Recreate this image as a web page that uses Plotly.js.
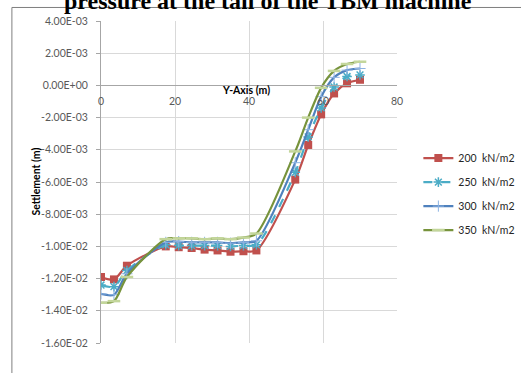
<!DOCTYPE html>
<html>
<head>
<meta charset="utf-8">
<script src="https://cdn.plot.ly/plotly-3.0.1.min.js"></script>
<style>
html,body{margin:0;padding:0;background:#fff;}
#chart{width:521px;height:373px;}
</style>
</head>
<body>
<div id="chart"></div>
<script>
// Distance along Y-axis (m)
const distance = [0, 3.5, 7, 17.5, 21, 24.5, 28, 31.5, 35, 38.5, 42, 52.5, 56, 59.5, 63, 66.5, 70];
// Settlement (m) for each face pressure
const s200 = [-1.19e-2, -1.205e-2, -1.12e-2, -1.00e-2, -1.005e-2, -1.01e-2, -1.02e-2, -1.025e-2, -1.033e-2, -1.03e-2, -1.025e-2, -5.85e-3, -3.7e-3, -1.8e-3, -5e-4, 1.3e-4, 3.5e-4];
const s250 = [-1.24e-2, -1.25e-2, -1.15e-2, -9.9e-3, -9.95e-3, -9.95e-3, -9.95e-3, -9.95e-3, -1.0e-2, -9.95e-3, -9.9e-3, -5.4e-3, -3.2e-3, -1.4e-3, -1.0e-4, 5.5e-4, 6.5e-4];
const s300 = [-1.295e-2, -1.30e-2, -1.17e-2, -9.75e-3, -9.7e-3, -9.75e-3, -9.75e-3, -9.75e-3, -9.8e-3, -9.75e-3, -9.65e-3, -4.8e-3, -2.75e-3, -7e-4, 5e-4, 9.5e-4, 1.05e-3];
const s350 = [-1.35e-2, -1.34e-2, -1.19e-2, -9.55e-3, -9.5e-3, -9.5e-3, -9.55e-3, -9.5e-3, -9.55e-3, -9.45e-3, -9.2e-3, -4.1e-3, -2.0e-3, -1.5e-4, 9e-4, 1.33e-3, 1.47e-3];
const seriesNames = ['200\u00a0\u00a0kN/m2', '250\u00a0\u00a0kN/m2', '300\u00a0\u00a0kN/m2', '350\u00a0\u00a0kN/m2'];
// Axis ticks
const yTickVals = [4e-3, 2e-3, 0, -2e-3, -4e-3, -6e-3, -8e-3, -1e-2, -1.2e-2, -1.4e-2, -1.6e-2];
const yTickText = ['4.00E-03', '2.00E-03', '0.00E+00', '-2.00E-03', '-4.00E-03', '-6.00E-03', '-8.00E-03', '-1.00E-02', '-1.20E-02', '-1.40E-02', '-1.60E-02'];
const xTickVals = [0, 20, 40, 60, 80];
const titleText = 'pressure at the tail of the TBM machine';
const xTitle = 'Y-Axis (m)';
const yTitle = 'Settlement (m)';

const tickFont = {family: 'Lato, "Open Sans", sans-serif', size: 10.5, color: '#595959'};

const traces = [
  {x: distance, y: s200, name: seriesNames[0], legendgroup: 'a', mode: 'lines+markers',
   line: {color: '#C0504D', width: 2.2, shape: 'spline', smoothing: 0.8},
   marker: {symbol: 'square', size: 8, color: '#C0504D'}},
  {x: distance, y: s250, name: seriesNames[1], legendgroup: 'b', mode: 'lines+markers',
   line: {color: '#4BACC6', width: 2.2, dash: 'dash', shape: 'spline', smoothing: 0.8},
   marker: {symbol: 'asterisk-open', size: 8, color: '#4BACC6', line: {color: '#4BACC6', width: 1.5}}},
  {x: distance, y: s300, name: seriesNames[2], legendgroup: 'c', mode: 'lines+markers',
   line: {color: '#4F81BD', width: 2.2, shape: 'spline', smoothing: 0.8},
   marker: {symbol: 'cross-thin-open', size: 8, color: '#8DB3E2', line: {color: '#8DB3E2', width: 1}}},
  {x: distance, y: s350, name: seriesNames[3], legendgroup: 'd', mode: 'lines+markers',
   line: {color: '#77933C', width: 2.2, shape: 'spline', smoothing: 0.8},
   marker: {symbol: 'line-ew-open', size: 9, color: '#C3D69B', line: {color: '#C3D69B', width: 2.5}}}
];

const layout = {
  width: 521, height: 373,
  margin: {l: 101, r: 124, t: 21, b: 30, pad: 0},
  paper_bgcolor: '#ffffff', plot_bgcolor: '#ffffff',
  showlegend: true,
  font: {family: 'Lato, "Open Sans", sans-serif', color: '#404040'},
  xaxis: {
    range: [0, 80], tickvals: xTickVals, ticks: '', showgrid: true, gridcolor: '#D9D9D9', gridwidth: 1,
    showline: true, linecolor: '#A6A6A6', linewidth: 1, anchor: 'free', position: 0.8,
    zeroline: false, tickfont: tickFont, ticklabelstandoff: 6
  },
  yaxis: {
    range: [-0.016, 0.004], tickvals: yTickVals, ticktext: yTickText, ticks: 'outside', ticklen: 4,
    tickcolor: '#A6A6A6', showgrid: true, gridcolor: '#D9D9D9', gridwidth: 1,
    showline: true, linecolor: '#A6A6A6', linewidth: 1, zeroline: false, tickfont: tickFont,
    ticklabelstandoff: 6
  },
  legend: {
    xref: 'container', yref: 'container',
    x: 0.803, y: 0.615, xanchor: 'left', yanchor: 'top', traceorder: 'grouped', tracegroupgap: 5,
    font: {family: 'Lato, "Open Sans", sans-serif', size: 10.5, color: '#262626'},
    bgcolor: 'rgba(0,0,0,0)', itemwidth: 30
  },
  annotations: [
    {text: '<b>' + titleText + '</b>', xref: 'paper', yref: 'paper', x: 0.564, y: 1.014, xanchor: 'center', yanchor: 'bottom',
     showarrow: false, font: {family: '"Liberation Serif", "Times New Roman", serif', size: 24, color: '#000'}},
    {text: '<b>' + xTitle + '</b>', xref: 'paper', yref: 'paper', x: 0.49, y: 0.785, xanchor: 'center', yanchor: 'middle',
     showarrow: false, font: {family: 'Lato, "Open Sans", sans-serif', size: 10.5, color: '#000'}},
    {text: '<b>' + yTitle + '</b>', xref: 'paper', yref: 'paper', x: -0.221, y: 0.5, xanchor: 'center', yanchor: 'middle',
     textangle: -90, showarrow: false, font: {family: 'Lato, "Open Sans", sans-serif', size: 10.5, color: '#000'}}
  ],
  shapes: [
    {type: 'line', xref: 'paper', yref: 'paper', x0: -0.301, x1: 1.5, y0: 1.042, y1: 1.042, line: {color: '#7F7F7F', width: 1}},
    {type: 'line', xref: 'paper', yref: 'paper', x0: -0.301, x1: -0.301, y0: 1.042, y1: -0.2, line: {color: '#7F7F7F', width: 1}}
  ]
};

Plotly.newPlot('chart', traces, layout, {displayModeBar: false, staticPlot: true});
</script>
</body>
</html>
